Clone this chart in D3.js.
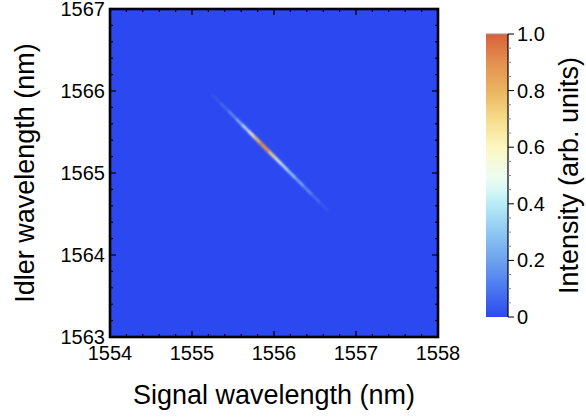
<!DOCTYPE html>
<html>
<head>
<meta charset="utf-8">
<script src="https://cdn.jsdelivr.net/npm/d3@7"></script>
<style>
  body { margin: 0; background: #fff; }
  text { font-family: "Liberation Sans", Arial, sans-serif; fill: #000; }
</style>
</head>
<body>
<svg id="chart"></svg>
<script>
// --- data ---
const xTicks = [1554, 1555, 1556, 1557, 1558];
const yTicks = [1563, 1564, 1565, 1566, 1567];
const cbTicks = [0, 0.2, 0.4, 0.6, 0.8, 1.0];
const cbTickLabels = ["0", "0.2", "0.4", "0.6", "0.8", "1.0"];

// colour map of the colour bar
const cmapStops = [0, 0.1, 0.2, 0.3, 0.4, 0.45, 0.5, 0.6, 0.7, 0.8, 0.9, 1.0];
const cmapColors = ["#2c48f0", "#4a78f0", "#6ca2ee", "#8ec8f2", "#b8ecf6", "#d8f8f6", "#eefdf0",
  "#fdf6c0", "#f5dc8a", "#eab460", "#e3904f", "#d9603a"];

// ridge of the joint spectrum (signal, idler, intensity)
const ridgeSignal = [1555.25, 1555.35, 1555.45, 1555.55, 1555.62, 1555.70, 1555.77, 1555.83, 1555.88,
  1555.93, 1556.00, 1556.08, 1556.16, 1556.25, 1556.35, 1556.45, 1556.55, 1556.65];
const ridgeIdler = [1565.95, 1565.85, 1565.75, 1565.65, 1565.58, 1565.50, 1565.43, 1565.37, 1565.32,
  1565.27, 1565.20, 1565.12, 1565.04, 1564.95, 1564.85, 1564.75, 1564.65, 1564.55];
const ridgeIntensity = [0.03, 0.07, 0.14, 0.26, 0.36, 0.5, 0.68, 0.84, 0.95,
  0.82, 0.6, 0.48, 0.4, 0.33, 0.25, 0.16, 0.09, 0.03];

const width = 586;
const height = 417;
const plot = { left: 110, top: 9, right: 438, bottom: 337 };
const bar = { left: 486, right: 508, top: 34, bottom: 317 };

const svg = d3.select("#chart").attr("width", width).attr("height", height);

const x = d3.scaleLinear().domain([1554, 1558]).range([plot.left, plot.right]);
const y = d3.scaleLinear().domain([1563, 1567]).range([plot.bottom, plot.top]);
const color = d3.scaleLinear().domain(cmapStops).range(cmapColors).interpolate(d3.interpolateRgb);
const cbY = d3.scaleLinear().domain([0, 1]).range([bar.bottom, bar.top]);

const defs = svg.append("defs");
defs.append("clipPath").attr("id", "plotClip")
  .append("rect")
  .attr("x", plot.left).attr("y", plot.top)
  .attr("width", plot.right - plot.left).attr("height", plot.bottom - plot.top);
defs.append("filter").attr("id", "soft")
  .attr("x", "-50%").attr("y", "-50%").attr("width", "200%").attr("height", "200%")
  .append("feGaussianBlur").attr("stdDeviation", 1.0);

// --- heat map background ---
svg.append("rect")
  .attr("x", plot.left).attr("y", plot.top)
  .attr("width", plot.right - plot.left).attr("height", plot.bottom - plot.top)
  .attr("fill", color(0));

// --- ridge ---
const segs = d3.pairs(d3.range(ridgeSignal.length)).map(([a, b]) => ({
  a, b, v: (ridgeIntensity[a] + ridgeIntensity[b]) / 2
}));
segs.sort((p, q) => p.v - q.v);

svg.append("g")
  .attr("clip-path", "url(#plotClip)")
  .attr("filter", "url(#soft)")
  .selectAll("line")
  .data(segs)
  .join("line")
  .attr("x1", (d) => x(ridgeSignal[d.a]))
  .attr("y1", (d) => y(ridgeIdler[d.a]))
  .attr("x2", (d) => x(ridgeSignal[d.b]))
  .attr("y2", (d) => y(ridgeIdler[d.b]))
  .attr("stroke", (d) => color(d.v))
  .attr("stroke-width", (d) => 1.4 + 2.2 * d.v)
  .attr("stroke-linecap", "round");

// --- axes (inside ticks on all sides) ---
const minorX = d3.range(1554, 1558.001, 0.2);
const minorY = d3.range(1563, 1567.001, 0.2);
const ticks = svg.append("g").attr("stroke", "#000").attr("stroke-width", 1.2);

ticks.selectAll(".tb").data(minorX).join("line")
  .attr("x1", (d) => x(d)).attr("x2", (d) => x(d))
  .attr("y1", plot.bottom).attr("y2", (d, i) => plot.bottom - (i % 5 === 0 ? 6 : 3));
ticks.selectAll(".tt").data(minorX).join("line")
  .attr("x1", (d) => x(d)).attr("x2", (d) => x(d))
  .attr("y1", plot.top).attr("y2", (d, i) => plot.top + (i % 5 === 0 ? 6 : 3));
ticks.selectAll(".tl").data(minorY).join("line")
  .attr("y1", (d) => y(d)).attr("y2", (d) => y(d))
  .attr("x1", plot.left).attr("x2", (d, i) => plot.left + (i % 5 === 0 ? 6 : 3));
ticks.selectAll(".tr").data(minorY).join("line")
  .attr("y1", (d) => y(d)).attr("y2", (d) => y(d))
  .attr("x1", plot.right).attr("x2", (d, i) => plot.right - (i % 5 === 0 ? 6 : 3));

svg.append("rect")
  .attr("x", plot.left).attr("y", plot.top)
  .attr("width", plot.right - plot.left).attr("height", plot.bottom - plot.top)
  .attr("fill", "none").attr("stroke", "#000").attr("stroke-width", 2.6);

svg.append("g").selectAll("text").data(xTicks).join("text")
  .attr("x", (d) => x(d)).attr("y", plot.bottom + 23)
  .attr("text-anchor", "middle").style("font-size", "20px")
  .text((d) => d);

svg.append("g").selectAll("text").data(yTicks).join("text")
  .attr("x", plot.left - 5).attr("y", (d) => y(d) + 7)
  .attr("text-anchor", "end").style("font-size", "20px")
  .text((d) => d);

svg.append("text")
  .attr("x", (plot.left + plot.right) / 2).attr("y", 404)
  .attr("text-anchor", "middle").style("font-size", "27px")
  .text("Signal wavelength (nm)");

svg.append("text")
  .attr("transform", `translate(34,${(plot.top + plot.bottom) / 2}) rotate(-90)`)
  .attr("text-anchor", "middle").style("font-size", "27px")
  .text("Idler wavelength (nm)");

// --- colour bar ---
const grad = defs.append("linearGradient").attr("id", "cbGrad")
  .attr("x1", 0).attr("y1", 1).attr("x2", 0).attr("y2", 0);
grad.selectAll("stop").data(cmapStops).join("stop")
  .attr("offset", (d) => d)
  .attr("stop-color", (d, i) => cmapColors[i]);

svg.append("rect")
  .attr("x", bar.left).attr("y", bar.top)
  .attr("width", bar.right - bar.left).attr("height", bar.bottom - bar.top)
  .attr("fill", "url(#cbGrad)");
svg.append("line")
  .attr("x1", bar.left).attr("x2", bar.right).attr("y1", bar.top).attr("y2", bar.top)
  .attr("stroke", "#999").attr("stroke-width", 1);
svg.append("line")
  .attr("x1", bar.right).attr("x2", bar.right).attr("y1", bar.top).attr("y2", bar.bottom)
  .attr("stroke", "#000").attr("stroke-width", 1.2);

const cbMinor = d3.range(0, 1.0001, 0.05);
svg.append("g").attr("stroke", "#000").attr("stroke-width", 1)
  .selectAll("line").data(cbMinor).join("line")
  .attr("x1", bar.right).attr("x2", (d, i) => bar.right + (i % 4 === 0 ? 6 : 3))
  .attr("y1", (d) => cbY(d)).attr("y2", (d) => cbY(d))
  .attr("stroke", (d, i) => (i % 4 === 0 ? "#000" : "#888"));

svg.append("g").selectAll("text").data(cbTicks).join("text")
  .attr("x", bar.right + 9).attr("y", (d) => cbY(d) + 7)
  .style("font-size", "20px")
  .text((d, i) => cbTickLabels[i]);

svg.append("text")
  .attr("transform", `translate(578,${(bar.top + bar.bottom) / 2}) rotate(-90)`)
  .attr("text-anchor", "middle").style("font-size", "27px")
  .text("Intensity (arb. units)");
</script>
</body>
</html>
